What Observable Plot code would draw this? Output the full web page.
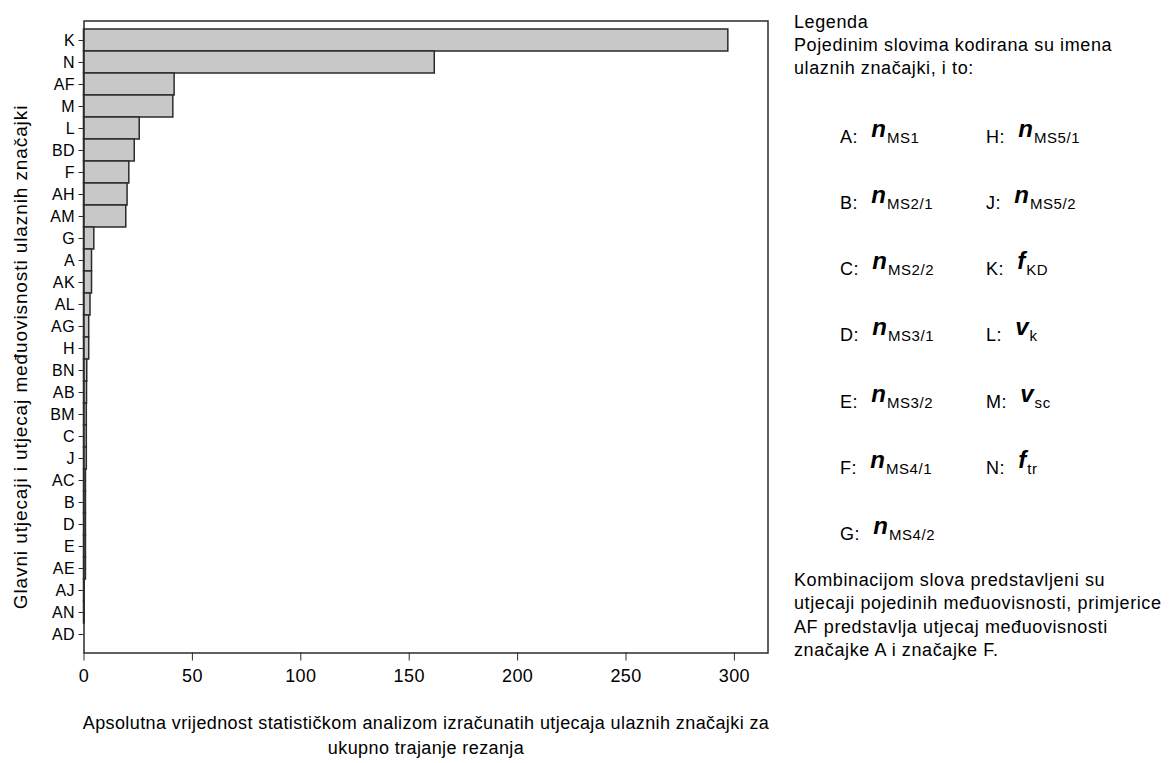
<!DOCTYPE html>
<html>
<head>
<meta charset="utf-8">
<script src="https://cdn.jsdelivr.net/npm/d3@7"></script>
<script src="https://cdn.jsdelivr.net/npm/@observablehq/plot@0.6"></script>
<style>
  html, body { margin: 0; padding: 0; background: #fff; }
  #wrap { position: relative; width: 1176px; height: 763px; overflow: hidden; }
  #chart { position: absolute; left: 0; top: 0; }
  #legend { position: absolute; left: 0; top: 0; pointer-events: none; }
</style>
</head>
<body>
<div id="wrap"><div id="chart"></div><svg id="legend" width="1176" height="763"></svg></div>
<script>
// ---- data ----
const categories = ["K","N","AF","M","L","BD","F","AH","AM","G","A","AK","AL","AG","H","BN","AB","BM","C","J","AC","B","D","E","AE","AJ","AN","AD"];
const values = [297.2, 161.8, 41.8, 41.2, 25.7, 23.4, 20.9, 20.1, 19.5, 4.75, 3.7, 3.7, 3.0, 2.4, 2.4, 1.5, 1.4, 1.3, 1.3, 1.3, 0.9, 0.9, 0.9, 0.9, 0.9, 0.3, 0.3, 0];
const xTicks = [0, 50, 100, 150, 200, 250, 300];
const xTitle = "Apsolutna vrijednost statističkom analizom izračunatih utjecaja ulaznih značajki za\nukupno trajanje rezanja";
const yTitle = "Glavni utjecaji i utjecaj međuovisnosti ulaznih značajki";

const legendHeader = ["Legenda", "Pojedinim slovima kodirana su imena", "ulaznih značajki, i to:"];
const legendKeys = ["A","B","C","D","E","F","G","H","J","K","L","M","N"];
const legendSymbols = ["n","n","n","n","n","n","n","n","n","f","v","v","f"];
const legendSubs = ["MS1","MS2/1","MS2/2","MS3/1","MS3/2","MS4/1","MS4/2","MS5/1","MS5/2","KD","k","sc","tr"];
const legendFooter = ["Kombinacijom slova predstavljeni su", "utjecaji pojedinih međuovisnosti, primjerice", "AF predstavlja utjecaj međuovisnosti", "značajke A i značajke F."];

const data = categories.map((k, i) => ({key: k, value: values[i]}));
const FONT = "'Liberation Sans', Arial, sans-serif";
const INK = "#2b2b2b";

const chart = Plot.plot({
  width: 775,
  height: 700,
  marginTop: 20.5,
  marginBottom: 47.5,
  marginLeft: 83.5,
  marginRight: 7.5,
  style: {fontFamily: FONT, fontSize: "16px", color: "#000", background: "transparent", overflow: "visible", letterSpacing: "0.4px"},
  x: {domain: [0, 315.5], label: null},
  y: {domain: categories, padding: 0, insetTop: 7, insetBottom: 7, label: null},
  marks: [
    Plot.barX(data, {x: "value", y: "key", fill: "#c8c8c8", stroke: INK, strokeWidth: 1.5}),
    Plot.frame({stroke: INK, strokeWidth: 1.5}),
    Plot.axisX({ticks: xTicks, tickSize: 8, tickPadding: 8, fontSize: 18, label: null, stroke: INK}),
    Plot.axisY({tickSize: 5, tickPadding: 4, fontSize: 16, label: null, stroke: INK}),
    Plot.text([xTitle], {frameAnchor: "bottom", dy: 59, lineAnchor: "top", lineHeight: 1.35, fontSize: 18, fill: "#000"}),
    Plot.text([yTitle], {frameAnchor: "left", textAnchor: "middle", rotate: -90, dx: -63, dy: 20, fontSize: 19, fill: "#000"})
  ]
});
document.getElementById("chart").appendChild(chart);
// slightly wider tracking on the vertical axis title, as in the reference
d3.select(chart).selectAll("text").filter(function() { return this.textContent === yTitle; }).style("letter-spacing", "0.9px");

// ---- legend (text block to the right of the chart) ----
const svg = d3.select("#legend").style("font-family", FONT).style("font-size", "18px").style("letter-spacing", "0.6px");
const textX = 794;
legendHeader.forEach((t, i) => {
  svg.append("text").attr("x", textX).attr("y", 28 + i * 23).text(t);
});
const rowBase = [143, 209, 275, 341, 408, 474, 540];
legendKeys.forEach((k, i) => {
  const col = i < 7 ? 0 : 1;
  const row = i < 7 ? i : i - 7;
  const t = svg.append("text").attr("x", col === 0 ? 840 : 986).attr("y", rowBase[row]);
  t.append("tspan").text(k + ":");
  t.append("tspan").attr("dx", 13).attr("dy", -6)
    .style("font-size", "24px").style("font-style", "italic").style("font-weight", "bold").style("letter-spacing", "0px")
    .text(legendSymbols[i]);
  t.append("tspan").attr("dy", 6).attr("dx", 1).style("font-size", "15px").text(legendSubs[i]);
});
legendFooter.forEach((t, i) => {
  svg.append("text").attr("x", textX).attr("y", 586 + i * 23.4).text(t);
});
</script>
</body>
</html>
